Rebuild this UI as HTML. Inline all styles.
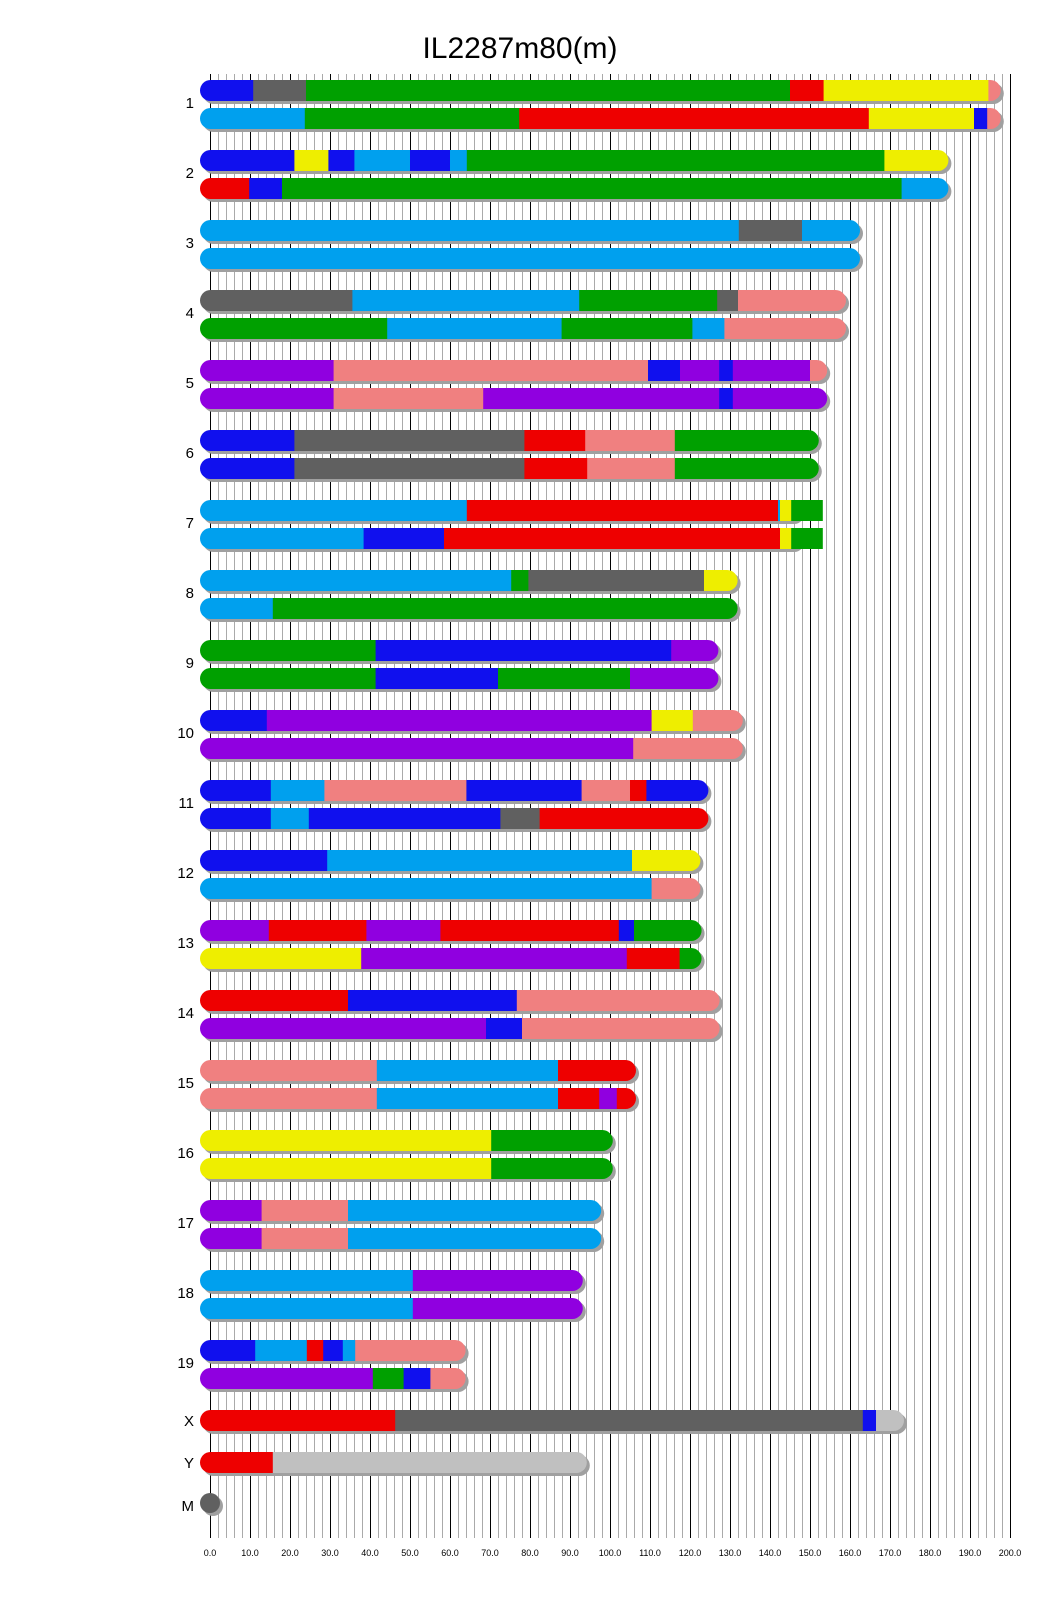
<!DOCTYPE html>
<html><head><meta charset="utf-8"><style>
html,body{margin:0;padding:0;background:#fff;}
svg{display:block;font-family:"Liberation Sans",sans-serif;}
</style></head><body>
<svg id="s" width="1040" height="1616" xmlns="http://www.w3.org/2000/svg">
<g id="grid" shape-rendering="crispEdges"></g>
<g id="bars"></g>
<text x="520" y="58" font-size="30" text-anchor="middle" fill="#000">IL2287m80(m)</text>
<g font-size="15" text-anchor="end" fill="#000">
<text x="194" y="108">1</text><text x="194" y="178">2</text><text x="194" y="248">3</text><text x="194" y="318">4</text><text x="194" y="388">5</text><text x="194" y="458">6</text><text x="194" y="528">7</text><text x="194" y="598">8</text><text x="194" y="668">9</text><text x="194" y="738">10</text><text x="194" y="808">11</text><text x="194" y="878">12</text><text x="194" y="948">13</text><text x="194" y="1018">14</text><text x="194" y="1088">15</text><text x="194" y="1158">16</text><text x="194" y="1228">17</text><text x="194" y="1298">18</text><text x="194" y="1368">19</text><text x="194" y="1426">X</text><text x="194" y="1468">Y</text><text x="194" y="1511">M</text>
</g>
<g font-size="9" text-anchor="middle" fill="#000">
<text x="210" y="1556">0.0</text><text x="250" y="1556">10.0</text><text x="290" y="1556">20.0</text><text x="330" y="1556">30.0</text><text x="370" y="1556">40.0</text><text x="410" y="1556">50.0</text><text x="450" y="1556">60.0</text><text x="490" y="1556">70.0</text><text x="530" y="1556">80.0</text><text x="570" y="1556">90.0</text><text x="610" y="1556">100.0</text><text x="650" y="1556">110.0</text><text x="690" y="1556">120.0</text><text x="730" y="1556">130.0</text><text x="770" y="1556">140.0</text><text x="810" y="1556">150.0</text><text x="850" y="1556">160.0</text><text x="890" y="1556">170.0</text><text x="930" y="1556">180.0</text><text x="970" y="1556">190.0</text><text x="1010" y="1556">200.0</text>
</g>
</svg>
<script>
var NS="http://www.w3.org/2000/svg";
function el(n,a,p){var e=document.createElementNS(NS,n);for(var k in a)e.setAttribute(k,a[k]);p.appendChild(e);return e;}
var g=document.getElementById("grid");
for(var u=0;u<=200;u+=2){var x=210+u*4;var blk=(u%10==0);
 el("rect",{x:x,y:74,width:1,height:1464,fill:blk?"#000":"#aaa"},g);}
var C={B:"#1010ee",G:"#606060",N:"#00a000",R:"#ee0000",Y:"#eeee00",P:"#f08080",L:"#00a0ee",U:"#9000e0",S:"#c0c0c0"};
var bars=document.getElementById("bars");
var cid=0;
function bar(y,L,segs){
 var w=L*4+20;
 el("rect",{x:203,y:y+3,width:w,height:21,rx:10.5,fill:"#a0a0a0"},bars);
 var id="c"+(cid++);var cp=el("clipPath",{id:id},bars);
 el("rect",{x:200,y:y,width:w,height:21,rx:10.5},cp);
 var gg=el("g",{"clip-path":"url(#"+id+")"},bars);
 var prev=-3;
 for(var i=0;i<segs.length;i++){var s=segs[i];var end=(i==segs.length-1)?L+3:s[1];
  var x0=210+prev*4, x1=210+end*4;
  el("rect",{x:x0,y:y,width:x1-x0+0.5,height:21,fill:C[s[0]]},gg);prev=end;}
}
var D=[
[195.2,[["B",10.8],["G",24],["N",145],["R",153.4],["Y",194.6],["P"]],[["L",23.7],["N",77.3],["R",164.7],["Y",191],["B",194.3],["P"]]],
[182.1,[["B",21.1],["Y",29.6],["B",36.1],["L",50],["B",60],["L",64.2],["N",168.6],["Y"]],[["R",9.8],["B",18],["N",172.9],["L"]]],
[160,[["L",132.2],["G",148],["L"]],[["L"]]],
[156.5,[["G",35.6],["L",92.3],["N",126.8],["G",132],["P"]],[["N",44.3],["L",87.9],["N",120.6],["L",128.6],["P"]]],
[151.8,[["U",30.9],["P",109.5],["B",117.5],["U",127.3],["B",130.7],["U",150],["P"]],[["U",30.9],["P",68.3],["U",127.3],["B",130.7],["U"]]],
[149.7,[["B",21.1],["G",78.6],["R",93.8],["P",116.2],["N"]],[["B",21.1],["G",78.6],["R",94.3],["P",116.2],["N"]]],
[145.4,[["L",64.2],["R",142],["L",142.5],["Y"]],[["L",38.4],["B",58.5],["R",142.5],["Y"]]],
[129.4,[["L",75.3],["N",79.6],["G",123.5],["Y"]],[["L",15.7],["N"]]],
[124.6,[["N",41.4],["B",115.3],["U"]],[["N",41.4],["B",72],["N",105],["U"]]],
[130.7,[["B",14.2],["U",110.4],["Y",120.7],["P"]],[["U",105.8],["P"]]],
[122.1,[["B",15.2],["L",28.6],["P",64.1],["B",92.9],["P",105],["R",109.1],["B"]],[["B",15.2],["L",24.7],["B",72.6],["G",82.4],["R"]]],
[120.1,[["B",29.3],["L",105.5],["Y"]],[["L",110.4],["P"]]],
[120.4,[["U",14.7],["R",39.1],["U",57.6],["R",102.2],["B",106],["N"]],[["Y",37.8],["U",104.2],["R",117.4],["N"]]],
[124.9,[["R",34.5],["B",76.7],["P"]],[["U",69],["B",78],["P"]]],
[104,[["P",41.7],["L",87],["R"]],[["P",41.7],["L",87],["R",97.3],["U",101.7],["R"]]],
[98.2,[["Y",70.3],["N"]],[["Y",70.3],["N"]]],
[95.3,[["U",12.9],["P",34.5],["L"]],[["U",12.9],["P",34.5],["L"]]],
[90.7,[["L",50.7],["U"]],[["L",50.7],["U"]]],
[61.4,[["B",11.3],["L",24.2],["R",28.3],["B",33.2],["L",36.3],["P"]],[["U",40.7],["N",48.4],["B",55.1],["P"]]]
];
for(var i=0;i<D.length;i++){var y=80+70*i;bar(y,D[i][0],D[i][1]);bar(y+28,D[i][0],D[i][2]);}
el("rect",{x:210+145.3*4,y:500,width:7.9*4,height:21,fill:C.N},bars);
el("rect",{x:210+145.3*4,y:528,width:7.9*4,height:21,fill:C.N},bars);
bar(1410,171,[["R",46.3],["G",163.2],["B",166.5],["S"]]);
bar(1452,91.7,[["R",15.7],["S"]]);
el("circle",{cx:213,cy:1506,r:10,fill:"#a0a0a0"},bars);
el("circle",{cx:210,cy:1503,r:10,fill:"#606060"},bars);
</script>
</body></html>
